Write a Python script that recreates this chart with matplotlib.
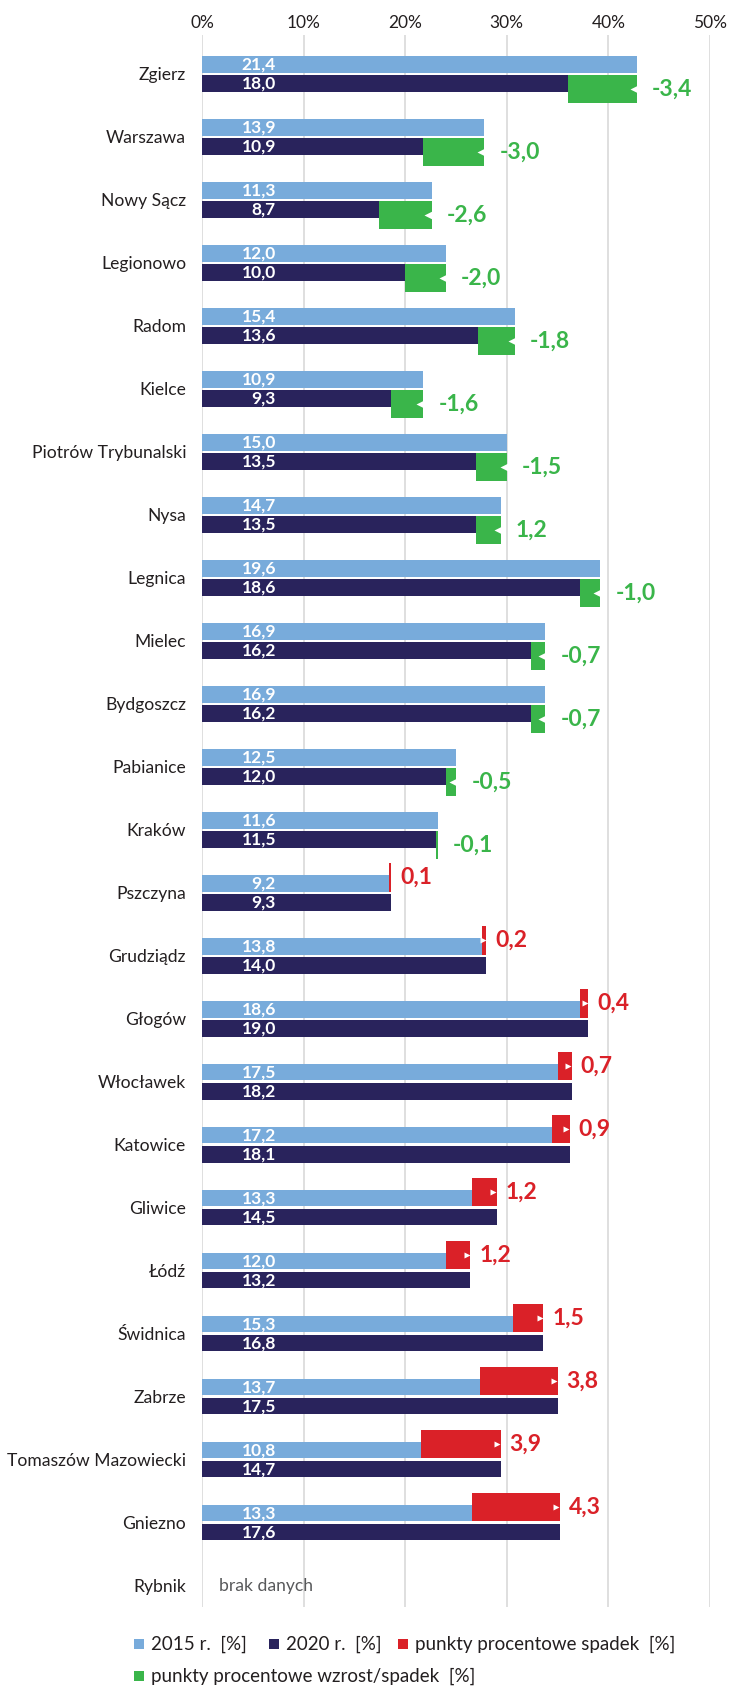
import matplotlib
matplotlib.use('Agg')
import matplotlib.pyplot as plt
from matplotlib.patches import Rectangle
import numpy as np

plt.rcParams['font.family'] = ['Lato', 'DejaVu Sans']

# ---------------- data ----------------
cities = ['Zgierz', 'Warszawa', 'Nowy Sącz', 'Legionowo', 'Radom', 'Kielce',
          'Piotrów Trybunalski', 'Nysa', 'Legnica', 'Mielec', 'Bydgoszcz',
          'Pabianice', 'Kraków', 'Pszczyna', 'Grudziądz', 'Głogów', 'Włocławek',
          'Katowice', 'Gliwice', 'Łódź', 'Świdnica', 'Zabrze',
          'Tomaszów Mazowiecki', 'Gniezno']
v2015 = [21.4, 13.9, 11.3, 12.0, 15.4, 10.9, 15.0, 14.7, 19.6, 16.9, 16.9,
         12.5, 11.6, 9.2, 13.8, 18.6, 17.5, 17.2, 13.3, 12.0, 15.3, 13.7,
         10.8, 13.3]
v2020 = [18.0, 10.9, 8.7, 10.0, 13.6, 9.3, 13.5, 13.5, 18.6, 16.2, 16.2,
         12.0, 11.5, 9.3, 14.0, 19.0, 18.2, 18.1, 14.5, 13.2, 16.8, 17.5,
         14.7, 17.6]
change_labels = ['-3,4', '-3,0', '-2,6', '-2,0', '-1,8', '-1,6', '-1,5', '1,2',
                 '-1,0', '-0,7', '-0,7', '-0,5', '-0,1', '0,1', '0,2', '0,4',
                 '0,7', '0,9', '1,2', '1,2', '1,5', '3,8', '3,9', '4,3']
missing_city = 'Rybnik'
missing_text = 'brak danych'
tick_labels = ['0%', '10%', '20%', '30%', '40%', '50%']
legend_labels = ['2015 r.  [%]', '2020 r.  [%]', 'punkty procentowe spadek  [%]',
                 'punkty procentowe wzrost/spadek  [%]']

# ---------------- style ----------------
C15 = '#78ABDB'
C20 = '#29235C'
CUP = '#DA2128'
CDN = '#3AB54A'
TXT = '#231F20'
GRID = '#D9D9D9'

W, H = 735, 1686
fig = plt.figure(figsize=(W / 100, H / 100), dpi=100)
ax_left, ax_right, ax_top, ax_bot = 202, 710, 35, 1607
ax = fig.add_axes([ax_left / W, 1 - ax_bot / H, (ax_right - ax_left) / W,
                   (ax_bot - ax_top) / H])

n = len(cities)
y = np.arange(n)
a15 = np.array(v2015)
a20 = np.array(v2020)
diff = a20 - a15

bh = 0.265
off = 0.151
ext = 0.185

ax.barh(y - off, a15, height=bh, color=C15, zorder=2)
ax.barh(y + off, a20, height=bh, color=C20, zorder=2)

px_per_unit = (ax_right - ax_left) / 25.0

for i in range(n):
    d = diff[i]
    if d < 0:
        top = off - bh / 2
        bot = off + bh / 2 + ext
        ax.barh((top + bot) / 2 + i, a15[i] - a20[i], left=a20[i],
                height=bot - top, color=CDN, zorder=3)
        yc = (top + bot) / 2 + i
        if abs(d) > 0.15:
            ax.plot(a15[i] - 3.2 / px_per_unit, yc, marker='<', ms=6,
                    color='white', mec='none', zorder=4)
        ax.annotate(change_labels[i], (a15[i], yc), xytext=(11, 0),
                    textcoords='offset points', ha='left', va='center',
                    color=CDN, fontsize=16.5, fontweight='bold', zorder=5,
                    annotation_clip=False)
    else:
        top = -off - bh / 2 - ext
        bot = -off + bh / 2
        ax.barh((top + bot) / 2 + i, a20[i] - a15[i], left=a15[i],
                height=bot - top, color=CUP, zorder=3)
        yc = (top + bot) / 2 + i
        if abs(d) > 0.15:
            ax.plot(a20[i] - 3.5 / px_per_unit, yc, marker='>', ms=5,
                    color='white', mec='none', zorder=4)
        ax.annotate(change_labels[i], (a20[i], yc), xytext=(6.5, 0),
                    textcoords='offset points', ha='left', va='center',
                    color=CUP, fontsize=16.5, fontweight='bold', zorder=5,
                    annotation_clip=False)

    for yy, v in ((i - off, a15[i]), (i + off, a20[i])):
        ax.text(74 / px_per_unit, yy, f"{v:.1f}".replace('.', ','),
                ha='right', va='center', color='white', fontsize=12.5,
                fontweight='bold', zorder=5)

# missing data row
ax.text(17 / px_per_unit, n, missing_text, ha='left', va='center',
        color='#58595B', fontsize=12.6)

ax.set_xlim(0, 25)
ax.set_ylim(24.34, -0.616)
ax.set_xticks(np.arange(0, 51, 10) / 2)
ax.set_xticklabels(tick_labels)
ax.xaxis.tick_top()
ax.tick_params(axis='x', length=0, pad=3, labelsize=12.5, labelcolor=TXT)
ax.set_yticks(np.arange(n + 1))
ax.set_yticklabels(cities + [missing_city])
ax.tick_params(axis='y', length=0, pad=11.5, labelsize=12.6, labelcolor=TXT)
ax.xaxis.grid(True, color=GRID, lw=1.2, zorder=0)
ax.set_axisbelow(True)
for s in ax.spines.values():
    s.set_visible(False)

# legend (manual)
leg = [(134, 1644, C15, legend_labels[0]),
       (269, 1644, C20, legend_labels[1]),
       (398, 1644, CUP, legend_labels[2]),
       (134, 1676, CDN, legend_labels[3])]
for x, yc, c, lab in leg:
    fig.add_artist(Rectangle((x / W, 1 - (yc + 5) / H), 10 / W, 10 / H,
                             transform=fig.transFigure, color=c, lw=0))
    fig.text((x + 17) / W, 1 - yc / H, lab, ha='left', va='center',
             color=TXT, fontsize=13.5)

fig.savefig('out.png', dpi=100)
